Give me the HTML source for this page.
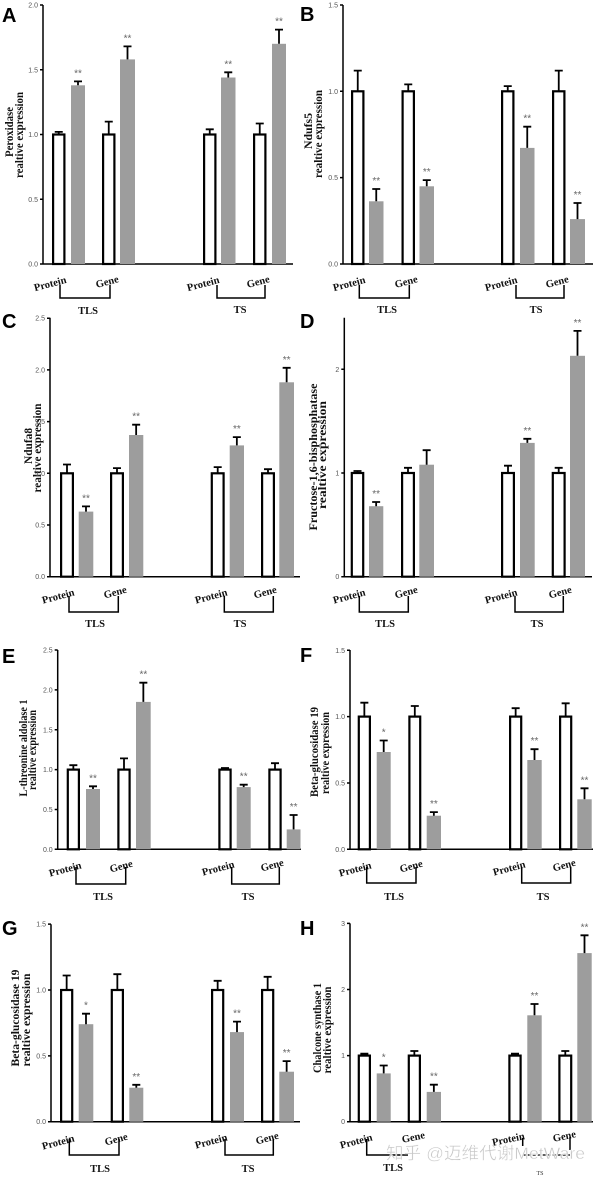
<!DOCTYPE html>
<html><head><meta charset="utf-8"><style>
html,body{margin:0;padding:0;background:#fff;}
svg{display:block;}
.w{fill:#fff;stroke:#000;stroke-width:2.2}
.g{fill:#9d9d9d}
.e{stroke:#000;stroke-width:1.8;fill:none}
.ax{stroke:#000;stroke-width:1.5;fill:none}
.br{stroke:#000;stroke-width:1.5;fill:none}
.tk{font-family:"Liberation Sans",sans-serif;font-size:7px;fill:#555;text-anchor:end}
.st{font-family:"Liberation Sans",sans-serif;font-size:10px;fill:#666;text-anchor:middle}
.yl{font-family:"Liberation Serif",serif;font-weight:bold;font-size:12px;fill:#111;text-anchor:middle}
.xl{font-family:"Liberation Serif",serif;font-weight:bold;font-size:10.5px;fill:#111;text-anchor:middle}
.pl{font-family:"Liberation Sans",sans-serif;font-weight:bold;font-size:20px;fill:#000}
</style></head><body>
<svg width="600" height="1179" viewBox="0 0 600 1179" xmlns="http://www.w3.org/2000/svg">

<!-- ============ PANEL A ============ -->
<text class="pl" x="2" y="22">A</text>
<text class="yl" transform="translate(13 132) rotate(-90)" textLength="50" lengthAdjust="spacingAndGlyphs">Peroxidase</text>
<text class="yl" transform="translate(23 135) rotate(-90)" textLength="86" lengthAdjust="spacingAndGlyphs">realtive expression</text>
<path class="ax" d="M43 5V264H293 M40 264H43 M40 199.25H43 M40 134.5H43 M40 69.75H43 M40 5H43"/>
<text class="tk" x="38" y="266.5">0.0</text>
<text class="tk" x="38" y="201.75">0.5</text>
<text class="tk" x="38" y="137">1.0</text>
<text class="tk" x="38" y="72.25">1.5</text>
<text class="tk" x="38" y="7.5">2.0</text>
<rect class="w" x="53.1" y="134.5" width="11.3" height="129.5"/>
<path class="e" d="M58.75 134.5V131.9M54.75 131.9H62.75"/>
<rect class="g" x="71" y="85.3" width="14" height="178.7"/>
<path class="e" d="M78 85.3V81.4M74 81.4H82"/>
<text class="st" x="78" y="76.4">**</text>
<rect class="w" x="103.1" y="134.5" width="11.3" height="129.5"/>
<path class="e" d="M108.75 134.5V121.6M104.75 121.6H112.75"/>
<rect class="g" x="120" y="59.4" width="15" height="204.6"/>
<path class="e" d="M127.5 59.4V46.4M123.5 46.4H131.5"/>
<text class="st" x="127.5" y="41.4">**</text>
<rect class="w" x="204.1" y="134.5" width="11.3" height="129.5"/>
<path class="e" d="M209.75 134.5V129.3M205.75 129.3H213.75"/>
<rect class="g" x="221" y="77.5" width="14.5" height="186.5"/>
<path class="e" d="M228.25 77.5V72.3M224.25 72.3H232.25"/>
<text class="st" x="228.25" y="67.3">**</text>
<rect class="w" x="254.1" y="134.5" width="11.3" height="129.5"/>
<path class="e" d="M259.75 134.5V123.5M255.75 123.5H263.75"/>
<rect class="g" x="272" y="43.8" width="14" height="220.2"/>
<path class="e" d="M279 43.8V29.6M275 29.6H283"/>
<text class="st" x="279" y="24.6">**</text>
<text class="xl" transform="translate(51 287) rotate(-15)">Protein</text>
<text class="xl" transform="translate(108 285) rotate(-15)">Gene</text>
<text class="xl" transform="translate(204 287) rotate(-15)">Protein</text>
<text class="xl" transform="translate(259 285) rotate(-15)">Gene</text>
<path class="br" d="M60 285V298H110V285 M217 285V298H265V285"/>
<text class="xl" x="88" y="314">TLS</text>
<text class="xl" x="240" y="313">TS</text>

<!-- ============ PANEL B ============ -->
<text class="pl" x="300" y="21">B</text>
<text class="yl" transform="translate(312 131) rotate(-90)" textLength="36" lengthAdjust="spacingAndGlyphs">Ndufs5</text>
<text class="yl" transform="translate(322 134) rotate(-90)" textLength="88" lengthAdjust="spacingAndGlyphs">realtive expression</text>
<path class="ax" d="M343 5V264H593 M340 264H343 M340 177.65H343 M340 91.3H343 M340 5H343"/>
<text class="tk" x="338" y="266.5">0.0</text>
<text class="tk" x="338" y="180.15">0.5</text>
<text class="tk" x="338" y="93.8">1.0</text>
<text class="tk" x="338" y="7.5">1.5</text>
<rect class="w" x="352.1" y="91.3" width="11.3" height="172.7"/>
<path class="e" d="M357.75 91.3V70.6M353.75 70.6H361.75"/>
<rect class="g" x="369" y="201.3" width="14.5" height="62.7"/>
<path class="e" d="M376.25 201.3V189M372.25 189H380.25"/>
<text class="st" x="376.25" y="184">**</text>
<rect class="w" x="402.6" y="91.3" width="11.3" height="172.7"/>
<path class="e" d="M408.25 91.3V84.4M404.25 84.4H412.25"/>
<rect class="g" x="419.5" y="186.3" width="14.5" height="77.7"/>
<path class="e" d="M426.75 186.3V180.1M422.75 180.1H430.75"/>
<text class="st" x="426.75" y="175.1">**</text>
<rect class="w" x="502.1" y="91.3" width="11.3" height="172.7"/>
<path class="e" d="M507.75 91.3V86.1M503.75 86.1H511.75"/>
<rect class="g" x="520" y="147.9" width="14.5" height="116.1"/>
<path class="e" d="M527.25 147.9V126.7M523.25 126.7H531.25"/>
<text class="st" x="527.25" y="121.7">**</text>
<rect class="w" x="553.1" y="91.3" width="11.3" height="172.7"/>
<path class="e" d="M558.75 91.3V70.6M554.75 70.6H562.75"/>
<rect class="g" x="570" y="219.1" width="15" height="44.9"/>
<path class="e" d="M577.5 219.1V203M573.5 203H581.5"/>
<text class="st" x="577.5" y="198">**</text>
<text class="xl" transform="translate(350 287) rotate(-15)">Protein</text>
<text class="xl" transform="translate(407 285) rotate(-15)">Gene</text>
<text class="xl" transform="translate(502 287) rotate(-15)">Protein</text>
<text class="xl" transform="translate(558 285) rotate(-15)">Gene</text>
<path class="br" d="M359.3 285V298H409.3V285 M516 285V298H564V285"/>
<text class="xl" x="387" y="313">TLS</text>
<text class="xl" x="536" y="313">TS</text>

<!-- ============ PANEL C ============ -->
<text class="pl" x="2" y="328">C</text>
<text class="yl" transform="translate(32 446) rotate(-90)" textLength="36" lengthAdjust="spacingAndGlyphs">Ndufa8</text>
<text class="yl" transform="translate(41 448) rotate(-90)" textLength="89" lengthAdjust="spacingAndGlyphs">realtive expression</text>
<path class="ax" d="M50 317.7V576.7H300 M47 576.7H50 M47 525H50 M47 473.3H50 M47 421.6H50 M47 369.9H50 M47 318.2H50"/>
<text class="tk" x="45" y="579.2">0.0</text>
<text class="tk" x="45" y="527.5">0.5</text>
<text class="tk" x="45" y="475.8">1.0</text>
<text class="tk" x="45" y="424.1">1.5</text>
<text class="tk" x="45" y="372.4">2.0</text>
<text class="tk" x="45" y="320.7">2.5</text>
<rect class="w" x="61.1" y="473.3" width="11.8" height="103.4"/>
<path class="e" d="M67 473.3V464.5M63 464.5H71"/>
<rect class="g" x="78.7" y="511.6" width="14.6" height="65.1"/>
<path class="e" d="M86 511.6V506.4M82 506.4H90"/>
<text class="st" x="86" y="501.4">**</text>
<rect class="w" x="111.1" y="473.3" width="11.8" height="103.4"/>
<path class="e" d="M117 473.3V468.1M113 468.1H121"/>
<rect class="g" x="129" y="435" width="14.3" height="141.7"/>
<path class="e" d="M136.15 435V424.7M132.15 424.7H140.15"/>
<text class="st" x="136.15" y="419.7">**</text>
<rect class="w" x="211.8" y="473.3" width="11.8" height="103.4"/>
<path class="e" d="M217.7 473.3V467.1M213.7 467.1H221.7"/>
<rect class="g" x="229.7" y="445.4" width="14.3" height="131.3"/>
<path class="e" d="M236.85 445.4V437.1M232.85 437.1H240.85"/>
<text class="st" x="236.85" y="432.1">**</text>
<rect class="w" x="262.1" y="473.3" width="11.8" height="103.4"/>
<path class="e" d="M268 473.3V469.2M264 469.2H272"/>
<rect class="g" x="279.3" y="382.3" width="14.7" height="194.4"/>
<path class="e" d="M286.65 382.3V367.8M282.65 367.8H290.65"/>
<text class="st" x="286.65" y="362.8">**</text>
<text class="xl" transform="translate(59 599.5) rotate(-15)">Protein</text>
<text class="xl" transform="translate(116 595.5) rotate(-15)">Gene</text>
<text class="xl" transform="translate(212 599.5) rotate(-15)">Protein</text>
<text class="xl" transform="translate(266 595.5) rotate(-15)">Gene</text>
<path class="br" d="M69 596V612H118.3V596 M224.3 596V612H273.3V596"/>
<text class="xl" x="95" y="627">TLS</text>
<text class="xl" x="240" y="627">TS</text>

<!-- ============ PANEL D ============ -->
<text class="pl" x="300" y="328">D</text>
<text class="yl" transform="translate(317 457) rotate(-90)" textLength="147" lengthAdjust="spacingAndGlyphs">Fructose-1,6-bisphosphatase</text>
<text class="yl" transform="translate(326 455) rotate(-90)" textLength="108" lengthAdjust="spacingAndGlyphs">realtive expression</text>
<path class="ax" d="M344.3 317.7V576.7H592 M341.3 576.7H344.3 M341.3 473H344.3 M341.3 369.3H344.3"/>
<text class="tk" x="339.3" y="579.2">0</text>
<text class="tk" x="339.3" y="475.5">1</text>
<text class="tk" x="339.3" y="371.8">2</text>
<rect class="w" x="351.8" y="473" width="11.4" height="103.7"/>
<path class="e" d="M357.5 473V471M353.5 471H361.5"/>
<rect class="g" x="369" y="506.2" width="14.3" height="70.5"/>
<path class="e" d="M376.15 506.2V502M372.15 502H380.15"/>
<text class="st" x="376.15" y="497">**</text>
<rect class="w" x="402.1" y="473" width="11.8" height="103.7"/>
<path class="e" d="M408 473V467.8M404 467.8H412"/>
<rect class="g" x="419.3" y="464.7" width="14.7" height="112"/>
<path class="e" d="M426.65 464.7V450.2M422.65 450.2H430.65"/>
<rect class="w" x="502.1" y="473" width="11.8" height="103.7"/>
<path class="e" d="M508 473V465.7M504 465.7H512"/>
<rect class="g" x="520" y="442.9" width="14.7" height="133.8"/>
<path class="e" d="M527.35 442.9V438.8M523.35 438.8H531.35"/>
<text class="st" x="527.35" y="433.8">**</text>
<rect class="w" x="552.8" y="473" width="11.8" height="103.7"/>
<path class="e" d="M558.7 473V467.8M554.7 467.8H562.7"/>
<rect class="g" x="570" y="355.8" width="15" height="220.9"/>
<path class="e" d="M577.5 355.8V330.9M573.5 330.9H581.5"/>
<text class="st" x="577.5" y="325.9">**</text>
<text class="xl" transform="translate(350 599.5) rotate(-15)">Protein</text>
<text class="xl" transform="translate(407 595.5) rotate(-15)">Gene</text>
<text class="xl" transform="translate(502 599.5) rotate(-15)">Protein</text>
<text class="xl" transform="translate(561 595.5) rotate(-15)">Gene</text>
<path class="br" d="M359.3 596V612H408.3V596 M515 596V612H563.3V596"/>
<text class="xl" x="385" y="627">TLS</text>
<text class="xl" x="537" y="627">TS</text>

<!-- ============ PANEL E ============ -->
<text class="pl" x="2" y="663">E</text>
<text class="yl" transform="translate(27 748) rotate(-90)" textLength="97" lengthAdjust="spacingAndGlyphs">L-threonine aldolase 1</text>
<text class="yl" transform="translate(36 750) rotate(-90)" textLength="80" lengthAdjust="spacingAndGlyphs">realtive expression</text>
<path class="ax" d="M57.7 650V849.3H301 M54.7 849.3H57.7 M54.7 809.45H57.7 M54.7 769.6H57.7 M54.7 729.75H57.7 M54.7 689.9H57.7 M54.7 650.05H57.7"/>
<text class="tk" x="52.7" y="851.8">0.0</text>
<text class="tk" x="52.7" y="811.95">0.5</text>
<text class="tk" x="52.7" y="772.1">1.0</text>
<text class="tk" x="52.7" y="732.25">1.5</text>
<text class="tk" x="52.7" y="692.4">2.0</text>
<text class="tk" x="52.7" y="652.55">2.5</text>
<rect class="w" x="67.8" y="769.6" width="11.1" height="79.7"/>
<path class="e" d="M73.35 769.6V765.2M69.35 765.2H77.35"/>
<rect class="g" x="86" y="789" width="14" height="60.3"/>
<path class="e" d="M93 789V786.3M89 786.3H97"/>
<text class="st" x="93" y="781.3">**</text>
<rect class="w" x="118.4" y="769.6" width="11.2" height="79.7"/>
<path class="e" d="M124 769.6V758.4M120 758.4H128"/>
<rect class="g" x="136" y="701.9" width="14.7" height="147.4"/>
<path class="e" d="M143.35 701.9V682.7M139.35 682.7H147.35"/>
<text class="st" x="143.35" y="677.7">**</text>
<rect class="w" x="219.4" y="769.6" width="11.2" height="79.7"/>
<path class="e" d="M225 769.6V768M221 768H229"/>
<rect class="g" x="236.7" y="787.1" width="14" height="62.2"/>
<path class="e" d="M243.7 787.1V784.7M239.7 784.7H247.7"/>
<text class="st" x="243.7" y="779.7">**</text>
<rect class="w" x="269.4" y="769.6" width="11.2" height="79.7"/>
<path class="e" d="M275 769.6V763.2M271 763.2H279"/>
<rect class="g" x="286.7" y="829.4" width="13.8" height="19.9"/>
<path class="e" d="M293.6 829.4V815M289.6 815H297.6"/>
<text class="st" x="293.6" y="810">**</text>
<text class="xl" transform="translate(66 872.5) rotate(-15)">Protein</text>
<text class="xl" transform="translate(122 869.5) rotate(-15)">Gene</text>
<text class="xl" transform="translate(219 871.5) rotate(-15)">Protein</text>
<text class="xl" transform="translate(273 868.5) rotate(-15)">Gene</text>
<path class="br" d="M76 867V884H125.7V867 M231.7 867V884H279.3V867"/>
<text class="xl" x="103" y="900">TLS</text>
<text class="xl" x="248" y="900">TS</text>

<!-- ============ PANEL F ============ -->
<text class="pl" x="300" y="662">F</text>
<text class="yl" transform="translate(318 752) rotate(-90)" textLength="90" lengthAdjust="spacingAndGlyphs">Beta-glucosidase 19</text>
<text class="yl" transform="translate(329 753) rotate(-90)" textLength="82" lengthAdjust="spacingAndGlyphs">realtive expression</text>
<path class="ax" d="M350 650V849.3H593 M347 849.3H350 M347 783H350 M347 716.6H350 M347 650.3H350"/>
<text class="tk" x="345" y="851.8">0.0</text>
<text class="tk" x="345" y="785.5">0.5</text>
<text class="tk" x="345" y="719.1">1.0</text>
<text class="tk" x="345" y="652.8">1.5</text>
<rect class="w" x="358.8" y="716.6" width="11.1" height="132.7"/>
<path class="e" d="M364.35 716.6V702.7M360.35 702.7H368.35"/>
<rect class="g" x="376.7" y="752" width="14" height="97.3"/>
<path class="e" d="M383.7 752V740.5M379.7 740.5H387.7"/>
<text class="st" x="383.7" y="735.5">*</text>
<rect class="w" x="409.4" y="716.6" width="10.8" height="132.7"/>
<path class="e" d="M414.8 716.6V706M410.8 706H418.8"/>
<rect class="g" x="426.7" y="815.7" width="14.3" height="33.6"/>
<path class="e" d="M433.85 815.7V812.1M429.85 812.1H437.85"/>
<text class="st" x="433.85" y="807.1">**</text>
<rect class="w" x="510.1" y="716.6" width="11.1" height="132.7"/>
<path class="e" d="M515.65 716.6V708.2M511.65 708.2H519.65"/>
<rect class="g" x="527.3" y="760" width="14.4" height="89.3"/>
<path class="e" d="M534.5 760V749.2M530.5 749.2H538.5"/>
<text class="st" x="534.5" y="744.2">**</text>
<rect class="w" x="560.1" y="716.6" width="11.1" height="132.7"/>
<path class="e" d="M565.65 716.6V703.3M561.65 703.3H569.65"/>
<rect class="g" x="577.3" y="799.3" width="14.4" height="50"/>
<path class="e" d="M584.5 799.3V788.3M580.5 788.3H588.5"/>
<text class="st" x="584.5" y="783.3">**</text>
<text class="xl" transform="translate(356 872.5) rotate(-15)">Protein</text>
<text class="xl" transform="translate(412 869.5) rotate(-15)">Gene</text>
<text class="xl" transform="translate(510 871.5) rotate(-15)">Protein</text>
<text class="xl" transform="translate(565 868.5) rotate(-15)">Gene</text>
<path class="br" d="M366.7 867V883H416V867 M521.7 867V883H570.7V867"/>
<text class="xl" x="394" y="900">TLS</text>
<text class="xl" x="543" y="900">TS</text>

<!-- ============ PANEL G ============ -->
<text class="pl" x="2" y="935">G</text>
<text class="yl" transform="translate(19 1018) rotate(-90)" textLength="97" lengthAdjust="spacingAndGlyphs">Beta-glucosidase 19</text>
<text class="yl" transform="translate(30 1020) rotate(-90)" textLength="93" lengthAdjust="spacingAndGlyphs">realtive expression</text>
<path class="ax" d="M51 924.3V1121.7H300 M48 1121.7H51 M48 1055.85H51 M48 990H51 M48 924.15H51"/>
<text class="tk" x="46" y="1124.2">0.0</text>
<text class="tk" x="46" y="1058.35">0.5</text>
<text class="tk" x="46" y="992.5">1.0</text>
<text class="tk" x="46" y="926.65">1.5</text>
<rect class="w" x="61.1" y="990" width="11.1" height="131.7"/>
<path class="e" d="M66.65 990V975.5M62.65 975.5H70.65"/>
<rect class="g" x="78.7" y="1024.2" width="14.6" height="97.5"/>
<path class="e" d="M86 1024.2V1013.7M82 1013.7H90"/>
<text class="st" x="86" y="1008.7">*</text>
<rect class="w" x="111.8" y="990" width="11.1" height="131.7"/>
<path class="e" d="M117.35 990V974.2M113.35 974.2H121.35"/>
<rect class="g" x="129.3" y="1087.7" width="14" height="34"/>
<path class="e" d="M136.3 1087.7V1084.8M132.3 1084.8H140.3"/>
<text class="st" x="136.3" y="1079.8">**</text>
<rect class="w" x="212.1" y="990" width="11.1" height="131.7"/>
<path class="e" d="M217.65 990V980.8M213.65 980.8H221.65"/>
<rect class="g" x="230" y="1032.1" width="14" height="89.6"/>
<path class="e" d="M237 1032.1V1021.6M233 1021.6H241"/>
<text class="st" x="237" y="1016.6">**</text>
<rect class="w" x="262.1" y="990" width="11.1" height="131.7"/>
<path class="e" d="M267.65 990V976.8M263.65 976.8H271.65"/>
<rect class="g" x="279.3" y="1071.7" width="14.7" height="50"/>
<path class="e" d="M286.65 1071.7V1061.1M282.65 1061.1H290.65"/>
<text class="st" x="286.65" y="1056.1">**</text>
<text class="xl" transform="translate(59 1145.5) rotate(-15)">Protein</text>
<text class="xl" transform="translate(117 1142.5) rotate(-15)">Gene</text>
<text class="xl" transform="translate(212 1144.5) rotate(-15)">Protein</text>
<text class="xl" transform="translate(268 1141.5) rotate(-15)">Gene</text>
<path class="br" d="M69.3 1139V1155H119V1139 M225 1139V1155H273.3V1139"/>
<text class="xl" x="100" y="1172">TLS</text>
<text class="xl" x="248" y="1172">TS</text>

<!-- ============ PANEL H ============ -->
<text class="pl" x="300" y="935">H</text>
<text class="yl" transform="translate(321 1028) rotate(-90)" textLength="90" lengthAdjust="spacingAndGlyphs">Chalcone synthase 1</text>
<text class="yl" transform="translate(331 1030) rotate(-90)" textLength="87" lengthAdjust="spacingAndGlyphs">realtive expression</text>
<path class="ax" d="M350 923.4V1121.7H593 M347 1121.7H350 M347 1055.6H350 M347 989.5H350 M347 923.4H350"/>
<text class="tk" x="345" y="1124.2">0</text>
<text class="tk" x="345" y="1058.1">1</text>
<text class="tk" x="345" y="992">2</text>
<text class="tk" x="345" y="925.9">3</text>
<rect class="w" x="358.8" y="1055.6" width="11.1" height="66.1"/>
<path class="e" d="M364.35 1055.6V1053.6M360.35 1053.6H368.35"/>
<rect class="g" x="376.7" y="1073.4" width="14" height="48.3"/>
<path class="e" d="M383.7 1073.4V1065.5M379.7 1065.5H387.7"/>
<text class="st" x="383.7" y="1060.5">*</text>
<rect class="w" x="408.8" y="1055.6" width="11.1" height="66.1"/>
<path class="e" d="M414.35 1055.6V1051M410.35 1051H418.35"/>
<rect class="g" x="426.7" y="1091.9" width="14.3" height="29.8"/>
<path class="e" d="M433.85 1091.9V1084.7M429.85 1084.7H437.85"/>
<text class="st" x="433.85" y="1079.7">**</text>
<rect class="w" x="509.4" y="1055.6" width="11.2" height="66.1"/>
<path class="e" d="M515 1055.6V1053.6M511 1053.6H519"/>
<rect class="g" x="527.3" y="1015.3" width="14.4" height="106.4"/>
<path class="e" d="M534.5 1015.3V1004M530.5 1004H538.5"/>
<text class="st" x="534.5" y="999">**</text>
<rect class="w" x="559.4" y="1055.6" width="11.8" height="66.1"/>
<path class="e" d="M565.3 1055.6V1051M561.3 1051H569.3"/>
<rect class="g" x="577.3" y="953.1" width="14.4" height="168.6"/>
<path class="e" d="M584.5 953.1V935.3M580.5 935.3H588.5"/>
<text class="st" x="584.5" y="930.3">**</text>
<text class="xl" transform="translate(357 1144.5) rotate(-15)">Protein</text>
<text class="xl" transform="translate(414 1140.5) rotate(-12)">Gene</text>
<text class="xl" transform="translate(509 1142.5) rotate(-12)">Protein</text>
<text class="xl" transform="translate(565 1139.5) rotate(-12)">Gene</text>
<path class="br" d="M366.7 1139V1155H408"/>
<path class="br" d="M522.7 1138V1146 M570 1137V1150"/>
<path d="M522.7 1155H570" stroke="#000" stroke-width="1.2" stroke-dasharray="3 2" fill="none"/>
<text class="xl" x="393" y="1171">TLS</text>
<text x="540" y="1175" style="font-family:'Liberation Serif',serif;font-size:6px;fill:#333;text-anchor:middle">TS</text>
<text x="386" y="1159" textLength="199" lengthAdjust="spacingAndGlyphs" style="font-family:'Liberation Sans','Noto Sans CJK SC',sans-serif;font-size:17px;fill:#c4c4c4;stroke:#fff;stroke-width:0.4;opacity:0.95">知乎 @迈维代谢MetWare</text>

</svg>
</body></html>
